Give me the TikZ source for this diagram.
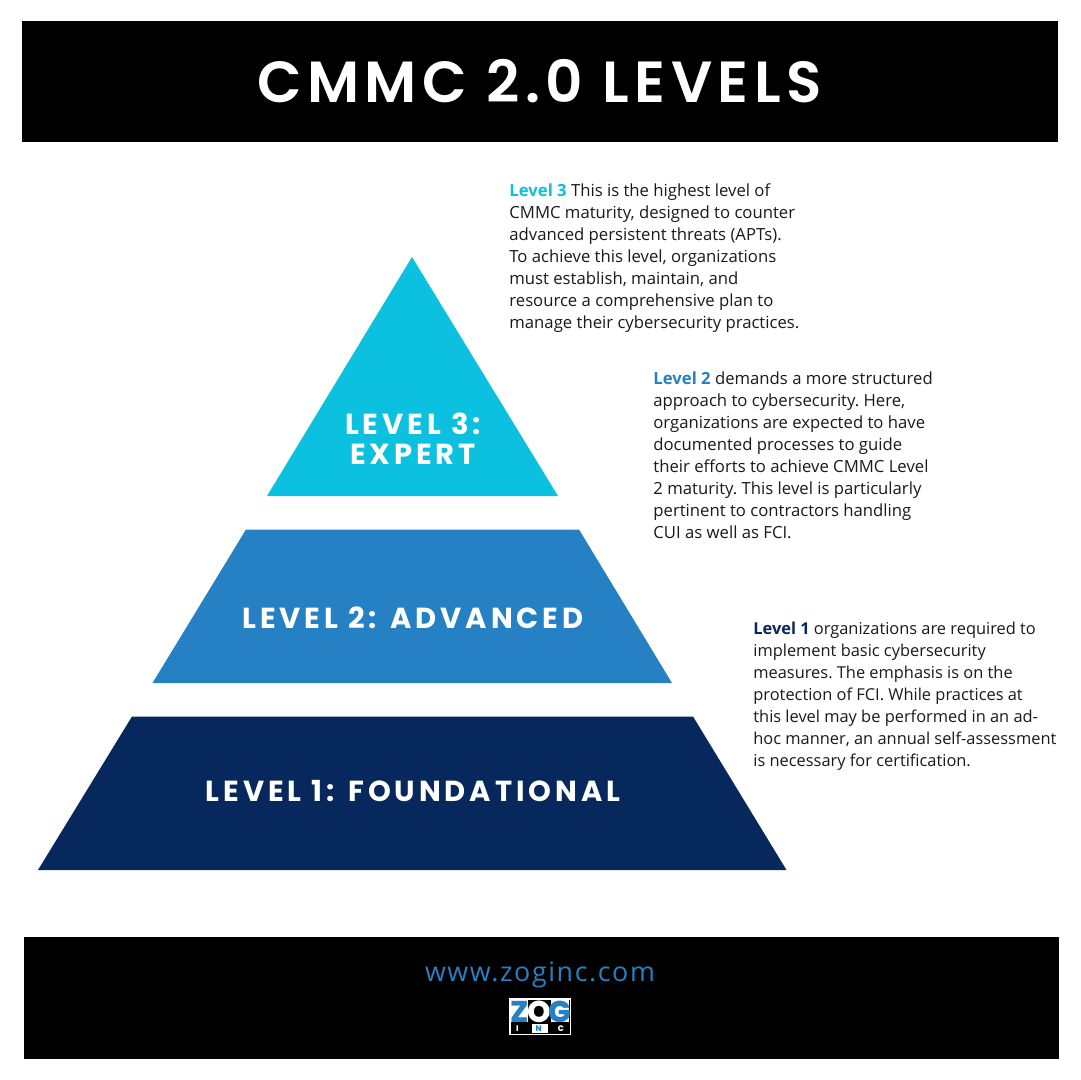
\documentclass[tikz,border=0pt]{standalone}
\usepackage{fontspec}
\setmainfont{Open Sans}
\newfontfamily\headfont[LetterSpace=13.5]{Poppins Bold}
\newfontfamily\titlefont[LetterSpace=9.5]{Poppins SemiBold}
\newfontfamily\urlfont[LetterSpace=6]{Open Sans}
\newfontfamily\logofont{Poppins ExtraBold}
\definecolor{navy}{HTML}{06285C}
\definecolor{midblue}{HTML}{2581C4}
\definecolor{cyanb}{HTML}{0CC0DF}
\definecolor{bodytext}{HTML}{1A1A1A}
\tikzset{
  px/.style={x=0.5pt,y=-0.5pt},
  band/.style={fill=black,draw=none},
  heading/.style={text=white,align=center,inner sep=0pt,font=\headfont\fontsize{14.5}{15}\selectfont},
  body/.style={anchor=north west,inner sep=0pt,align=left,text=bodytext,font=\frenchspacing\fontsize{8.35}{11}\selectfont},
  bodysmall/.style={body,font=\frenchspacing\fontsize{8.2}{11}\selectfont},
}
\begin{document}
\begin{tikzpicture}[px]
\useasboundingbox (0,0) rectangle (1080,1080);
\fill[white] (0,0) rectangle (1080,1080);
\fill[band] (22,21) rectangle (1058,142);
\fill[band] (24,937) rectangle (1059,1059);
\node[text=white,inner sep=0pt,font=\titlefont\fontsize{29}{32}\selectfont] (title) at (539.5,81) {CMMC 2.0 LEVELS};
\fill[cyanb] (412,257) -- (558,496) -- (267,496) -- cycle;
\fill[midblue] (246,529.5) -- (579,529.5) -- (672,683) -- (152.5,683) -- cycle;
\fill[navy] (132,716.5) -- (693,716.5) -- (786.5,870) -- (38,870) -- cycle;
\node[heading] (l3) at (413,439) {LEVEL 3:\\EXPERT};
\node[heading] (l2) at (413,618) {LEVEL 2: ADVANCED};
\node[heading] (l1) at (413,791) {LEVEL 1: FOUNDATIONAL};
\node[body] (t3) at (509,183.5) {\textcolor{cyanb}{\textbf{Level 3}} This is the highest level of\\CMMC maturity, designed to counter\\advanced persistent threats (APTs).\\To achieve this level, organizations\\must establish, maintain, and\\resource a comprehensive plan to\\manage their cybersecurity practices.};
\node[body] (t2) at (653,371.5) {\textcolor{midblue}{\textbf{Level 2}} demands a more structured\\approach to cybersecurity. Here,\\organizations are expected to have\\documented processes to guide\\their efforts to achieve CMMC Level\\2 maturity. This level is particularly\\pertinent to contractors handling\\CUI as well as FCI.};
\node[bodysmall] (t1) at (753,621.5) {\textcolor{navy}{\textbf{Level 1}} organizations are required to\\implement basic cybersecurity\\measures. The emphasis is on the\\protection of FCI. While practices at\\this level may be performed in an ad-\\hoc manner, an annual self-assessment\\is necessary for certification.};
\node[text=midblue,inner sep=0pt,font=\urlfont\fontsize{13.4}{15}\selectfont] (url) at (540,975) {www.zoginc.com};
% logo
\fill[white] (509,998) rectangle (571,1035);
\fill[black] (510.5,999.5) rectangle (569.5,1033.5);
\fill[white] (511,1000) rectangle (569,1022);
\fill[black] (528,1000) rectangle (551,1022);
\node[inner sep=0pt,text=midblue,font=\logofont\fontsize{15}{15}\selectfont] (lz) at (519.5,1011.5) {Z};
\node[inner sep=0pt,text=white,font=\logofont\fontsize{15}{15}\selectfont] (lo) at (539.5,1011.5) {O};
\node[inner sep=0pt,text=midblue,font=\logofont\fontsize{15}{15}\selectfont] (lg) at (560,1011.5) {G};
\fill[white] (532,1024) rectangle (548,1033);
\node[inner sep=0pt,text=white,font=\logofont\fontsize{4}{4}\selectfont] (linc) at (540,1028.5) {I\hspace{8.5pt}\textcolor{midblue}{N}\hspace{8pt}C};
\end{tikzpicture}
\end{document}
